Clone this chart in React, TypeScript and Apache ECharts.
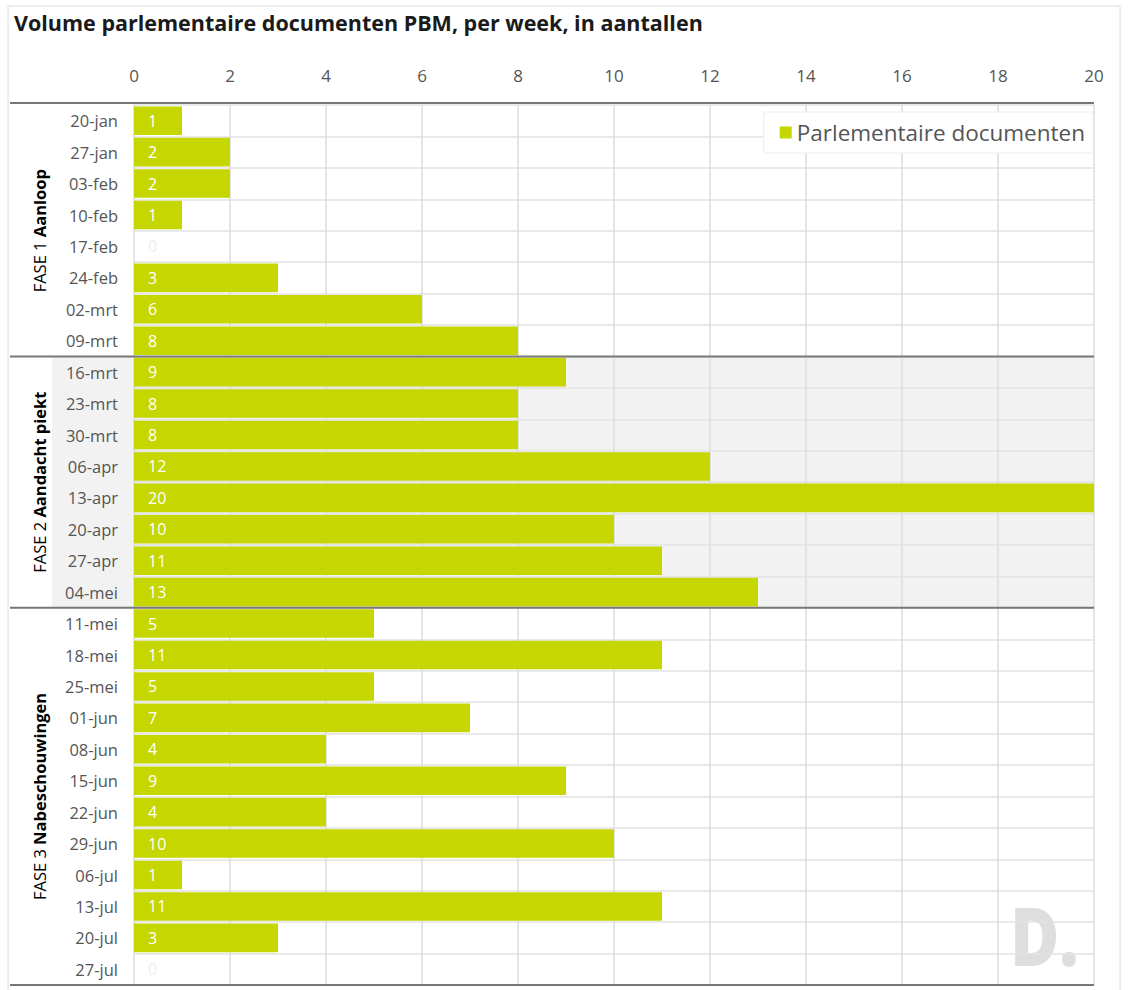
import React, { useEffect, useRef } from "react";
import * as echarts from "echarts";

const TITLE = "Volume parlementaire documenten PBM, per week, in aantallen";
const SERIES_NAME = "Parlementaire documenten";

const weeks = [
  "20-jan", "27-jan", "03-feb", "10-feb", "17-feb", "24-feb", "02-mrt", "09-mrt",
  "16-mrt", "23-mrt", "30-mrt", "06-apr", "13-apr", "20-apr", "27-apr", "04-mei",
  "11-mei", "18-mei", "25-mei", "01-jun", "08-jun", "15-jun", "22-jun", "29-jun",
  "06-jul", "13-jul", "20-jul", "27-jul",
];

const values = [
  1, 2, 2, 1, 0, 3, 6, 8,
  9, 8, 8, 12, 20, 10, 11, 13,
  5, 11, 5, 7, 4, 9, 4, 10, 1, 11, 3, 0,
];

const phases = [
  { first: 0, last: 7, num: "FASE 1 ", name: "Aanloop", shaded: false },
  { first: 8, last: 15, num: "FASE 2 ", name: "Aandacht piekt", shaded: true },
  { first: 16, last: 27, num: "FASE 3 ", name: "Nabeschouwingen", shaded: false },
];

const W = 1133;
const H = 990;
const GRID_LEFT = 134;
const GRID_RIGHT_X = 1094;
const GRID_TOP = 105;
const GRID_BOTTOM_Y = 985;
const GREEN = "#c5d600";

export default function App() {
  const ref = useRef<HTMLDivElement>(null);

  useEffect(() => {
    document.body.style.margin = "0";
    if (!ref.current) return;
    const chart = echarts.init(ref.current, null, { renderer: "svg" });
    const n = weeks.length;
    const rowH = (GRID_BOTTOM_Y - GRID_TOP) / n;

    const graphics: any[] = [];
    graphics.push({
      type: "rect",
      z: -20,
      shape: { x: 8, y: 6, width: 1112, height: 1000 },
      style: { fill: "none", stroke: "#dcdcdc", lineWidth: 1 },
    });
    phases.forEach((p) => {
      const y0 = GRID_TOP + p.first * rowH;
      const y1 = GRID_TOP + (p.last + 1) * rowH;
      if (p.shaded) {
        graphics.push({
          type: "rect",
          z: -10,
          shape: { x: 52, y: y0, width: GRID_RIGHT_X - 52, height: y1 - y0 },
          style: { fill: "#f2f2f2" },
        });
      }
      graphics.push({
        type: "text",
        x: 39,
        y: (y0 + y1) / 2,
        rotation: Math.PI / 2,
        style: {
          text: `{a|${p.num}}{b|${p.name}}`,
          align: "center",
          verticalAlign: "middle",
          rich: {
            a: { fontSize: 16.5, color: "#808080", fontFamily: "Open Sans" },
            b: { fontSize: 16.5, color: "#333", fontWeight: "bold", fontFamily: "Open Sans" },
          },
        },
      });
    });
    const sepYs = [GRID_TOP - 2, GRID_TOP + 8 * rowH, GRID_TOP + 16 * rowH, GRID_BOTTOM_Y];
    sepYs.forEach((y) => {
      graphics.push({
        type: "line",
        z: 50,
        shape: { x1: 10, y1: y, x2: GRID_RIGHT_X, y2: y },
        style: { stroke: "#777", lineWidth: 2 },
      });
    });
    graphics.push({
      type: "text",
      left: 14,
      top: 11,
      style: {
        text: TITLE,
        fontSize: 21.5,
        fontWeight: "bold",
        fill: "#1a1a1a",
        fontFamily: "Open Sans",
      },
    });
    graphics.push({
      type: "text",
      x: 1010,
      y: 893,
      z: -5,
      scaleX: 0.82,
      style: {
        text: "D.",
        fontSize: 82,
        fontWeight: 800,
        fill: "#dedede",
        fontFamily: "Open Sans",
      },
    });

    chart.setOption({
      animation: false,
      backgroundColor: "#fff",
      grid: {
        left: GRID_LEFT,
        right: W - GRID_RIGHT_X,
        top: GRID_TOP,
        bottom: H - GRID_BOTTOM_Y,
        containLabel: false,
      },
      legend: {
        data: [SERIES_NAME],
        right: 40,
        top: 112,
        icon: "rect",
        itemWidth: 12,
        itemHeight: 12,
        itemGap: 8,
        backgroundColor: "#fff",
        borderColor: "#eeeeee",
        borderWidth: 1,
        padding: [9, 8, 9, 16],
        textStyle: { fontSize: 22.5, color: "#555", fontFamily: "Open Sans" },
      },
      xAxis: {
        type: "value",
        position: "top",
        min: 0,
        max: 20,
        interval: 2,
        axisLine: { show: false },
        axisTick: { show: false },
        axisLabel: { fontSize: 17, color: "#555", margin: 21, fontFamily: "Open Sans" },
        splitLine: { show: true, lineStyle: { color: "#dddddd", width: 1.5 } },
      },
      yAxis: {
        type: "category",
        data: weeks,
        inverse: true,
        axisLine: { show: false },
        axisTick: { show: false },
        axisLabel: { fontSize: 16.5, color: "#555", margin: 16, fontFamily: "Open Sans" },
        splitLine: { show: true, lineStyle: { color: "#e2e2e2", width: 1.5 } },
      },
      series: [
        {
          name: SERIES_NAME,
          type: "bar",
          barCategoryGap: "9%",
          itemStyle: { color: GREEN },
          data: values.map((v) => ({
            value: v,
            label: { color: v === 0 ? "#eeeeee" : "#ffffff" },
          })),
          label: {
            show: true,
            position: "insideLeft",
            distance: 14,
            fontSize: 16,
            color: "#fff",
            fontFamily: "Open Sans",
          },
        },
      ],
      graphic: graphics,
    });
    return () => chart.dispose();
  }, []);

  return <div ref={ref} style={{ width: W, height: H }} />;
}
